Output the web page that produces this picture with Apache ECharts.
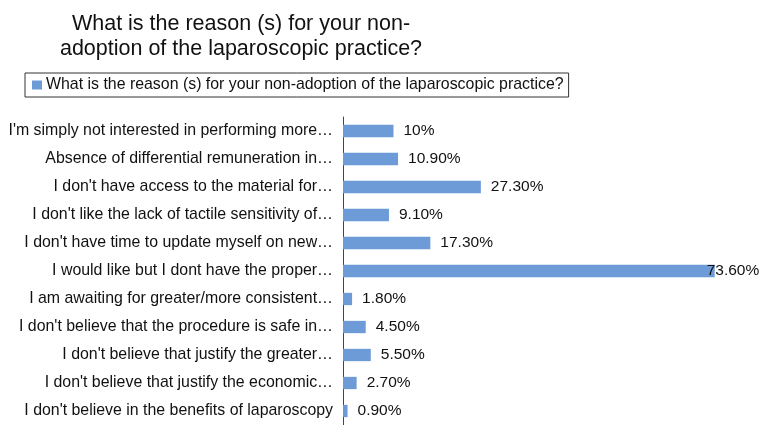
<!DOCTYPE html>
<html>
<head>
<meta charset="utf-8">
<script src="https://cdn.jsdelivr.net/npm/echarts@6/dist/echarts.min.js"></script>
<style>
  html, body { margin: 0; padding: 0; background: #fff; overflow: hidden; }
  #chart { width: 759px; height: 425px; }
</style>
</head>
<body>
<div id="chart"></div>
<script>
// reasons, top to bottom as in the picture
const reasons = [
    "I'm simply not interested in performing more…",
    'Absence of differential remuneration in…',
    "I don't have access to the material for…",
    "I don't like the lack of tactile sensitivity of…",
    "I don't have time to update myself on new…",
    'I would like but I dont have the proper…',
    'I am awaiting for greater/more consistent…',
    "I don't believe that the procedure is safe in…",
    "I don't believe that justify the greater…",
    "I don't believe that justify the economic…",
    "I don't believe in the benefits of laparoscopy"
];
const percents = [10, 10.9, 27.3, 9.1, 17.3, 73.6, 1.8, 4.5, 5.5, 2.7, 0.9];
const valueLabels = ['10%', '10.90%', '27.30%', '9.10%', '17.30%', '73.60%', '1.80%', '4.50%', '5.50%', '2.70%', '0.90%'];
const seriesName = 'What is the reason (s) for your non-adoption of the laparoscopic practice?';

const font = '"Liberation Sans", Arial, sans-serif';
let chart = echarts.init(document.getElementById('chart'));

const maxVal = Math.max(...percents);
const barData = percents.map((v, i) => {
    const item = { value: v };
    // the longest bar's label sits over its end
    if (v === maxVal) item.label = { distance: -8 };
    return item;
});

const option = {
    animation: false,
    title: {
        text: 'What is the reason (s) for your non-\nadoption of the laparoscopic practice?',
        left: 236,
        top: 7,
        textAlign: 'center',
        textStyle: {
            fontFamily: font,
            fontSize: 21.5,
            fontWeight: 'normal',
            color: '#111',
            lineHeight: 25
        }
    },
    legend: {
        left: 25,
        top: 73,
        padding: [4, 5, 4, 7],
        borderColor: '#333',
        borderWidth: 1,
        itemWidth: 10,
        itemHeight: 9,
        itemGap: 5,
        icon: 'rect',
        textStyle: { fontFamily: font, fontSize: 15.9, color: '#111', padding: [0, 0, 0, -1] },
        data: [seriesName]
    },
    grid: {
        left: 343,
        top: 117,
        width: 404,
        height: 317,
        containLabel: false
    },
    xAxis: {
        type: 'value',
        min: 0,
        max: 80,
        show: false
    },
    yAxis: {
        type: 'category',
        inverse: true,
        data: reasons,
        axisLine: { show: true, lineStyle: { color: '#444', width: 1 } },
        axisTick: { show: false },
        axisLabel: { fontFamily: font, fontSize: 15.9, color: '#111', margin: 10 }
    },
    series: [{
        name: seriesName,
        type: 'bar',
        data: barData,
        barWidth: '44%',
        itemStyle: { color: '#6d9bd8' },
        label: {
            show: true,
            position: 'right',
            distance: 10,
            fontFamily: font,
            fontSize: 15.5,
            color: '#111',
            formatter: (p) => valueLabels[p.dataIndex]
        }
    }]
};

chart.setOption(option);
</script>
</body>
</html>
